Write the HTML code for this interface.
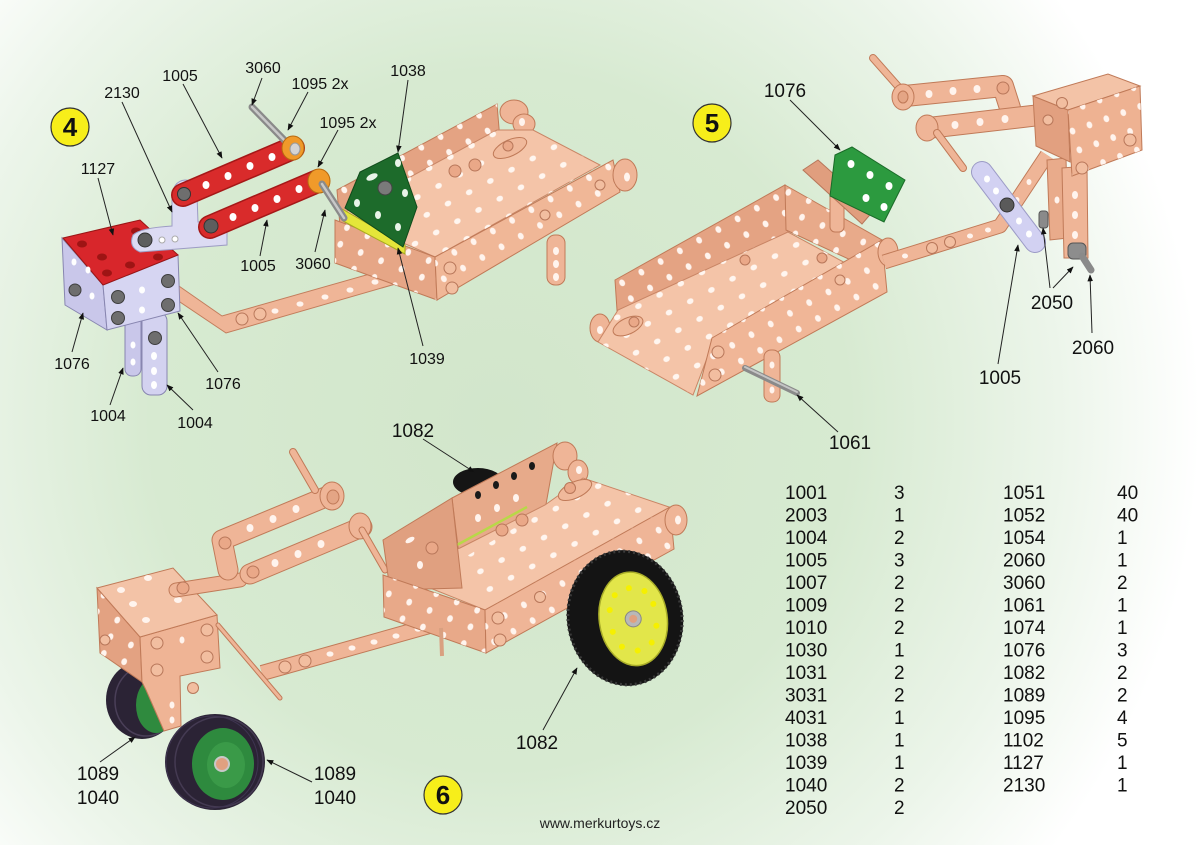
<!DOCTYPE html>
<html><head><meta charset="utf-8">
<style>
html,body{margin:0;padding:0}
body{width:1200px;height:845px;overflow:hidden;background:#fff}
svg{display:block}
</style></head><body>
<svg width="1200" height="845" viewBox="0 0 1200 845" xmlns="http://www.w3.org/2000/svg" font-family="'Liberation Sans', Arial, sans-serif">
<defs>
<radialGradient id="bg" gradientUnits="userSpaceOnUse" cx="500" cy="420" r="700">
<stop offset="0" stop-color="#d2e6cb"/>
<stop offset="0.5" stop-color="#d7ead1"/>
<stop offset="0.8" stop-color="#ecf5ea"/>
<stop offset="1" stop-color="#ffffff"/>
</radialGradient>
<pattern id="hA" width="22" height="18" patternUnits="userSpaceOnUse" patternTransform="rotate(-29)"><ellipse cx="11" cy="9" rx="2.8" ry="3.5" fill="#fff4ee"/></pattern>
<pattern id="hB" width="22" height="18" patternUnits="userSpaceOnUse" patternTransform="rotate(22)"><ellipse cx="11" cy="9" rx="2.8" ry="3.5" fill="#fff4ee"/></pattern>
<pattern id="hF" width="24" height="20" patternUnits="userSpaceOnUse" patternTransform="rotate(-28)"><ellipse cx="12" cy="10" rx="3.4" ry="2.8" fill="#fff6f0"/></pattern>
<pattern id="hV" width="18" height="20" patternUnits="userSpaceOnUse" patternTransform="rotate(-20)"><ellipse cx="9" cy="10" rx="2.8" ry="3.5" fill="#fff4ee"/></pattern>
<marker id="ah" viewBox="0 0 10 10" refX="9" refY="5" markerWidth="7" markerHeight="7" orient="auto" markerUnits="userSpaceOnUse"><path d="M0,1 L10,5 L0,9 z" fill="#111"/></marker>
</defs>

<rect width="1200" height="845" fill="url(#bg)"/>

<!-- ================= ASSEMBLY 4 ================= -->
<polygon points="176,284 222,316 433,256 437,272 226,333 174,298" fill="#efb597" stroke="#c27d5c" stroke-width="1"/>
<g fill="#fff4ee"><ellipse cx="275" cy="311" rx="3.5" ry="2.6"/><ellipse cx="300" cy="304" rx="3.5" ry="2.6"/><ellipse cx="325" cy="297" rx="3.5" ry="2.6"/><ellipse cx="350" cy="290" rx="3.5" ry="2.6"/><ellipse cx="375" cy="282" rx="3.5" ry="2.6"/><ellipse cx="400" cy="275" rx="3.5" ry="2.6"/></g>
<g fill="#f2bea0" stroke="#b8775a"><circle cx="242" cy="319" r="6"/><circle cx="260" cy="314" r="6"/></g>

<polygon points="337,190 497,104 500,140 340,226" fill="#e4a383" stroke="#c07a58"/>
<polygon points="337,190 497,104 500,140 340,226" fill="url(#hA)"/>
<ellipse cx="514" cy="112" rx="14" ry="12" fill="#efb597" stroke="#c07a58"/>
<ellipse cx="524" cy="124" rx="11" ry="10" fill="#efb597" stroke="#c07a58"/>
<ellipse cx="522" cy="122" rx="3" ry="4" fill="#fff4ee"/>
<polygon points="340,215 497,130 533,130 600,165 435,257" fill="#f4c4a8" stroke="#c98565"/>
<polygon points="340,215 497,130 533,130 600,165 435,257" fill="url(#hF)"/>
<ellipse cx="510" cy="148" rx="18" ry="8" fill="#f0b99b" stroke="#c07a58" transform="rotate(-25 510 148)"/>
<circle cx="508" cy="146" r="5" fill="#eaa888" stroke="#b8775a"/>
<circle cx="455" cy="171" r="6" fill="#eaa888" stroke="#b8775a"/>
<circle cx="475" cy="165" r="6" fill="#eaa888" stroke="#b8775a"/>
<rect x="547" y="235" width="18" height="50" rx="8" fill="#efb597" stroke="#c07a58"/>
<g fill="#fff4ee"><ellipse cx="556" cy="251" rx="3" ry="4"/><ellipse cx="556" cy="264" rx="3" ry="4"/><ellipse cx="556" cy="277" rx="3" ry="4"/></g>
<polygon points="335,220 435,257 437,300 335,263" fill="#e6a686" stroke="#c07a58"/>
<polygon points="335,220 435,257 437,300 335,263" fill="url(#hB)"/>
<polygon points="435,257 613,160 620,192 437,300" fill="#f0b797" stroke="#c07a58"/>
<polygon points="435,257 613,160 620,192 437,300" fill="url(#hA)"/>
<g fill="#f2bea0" stroke="#b8775a"><circle cx="450" cy="268" r="6"/><circle cx="452" cy="288" r="6"/><circle cx="545" cy="215" r="5"/><circle cx="600" cy="185" r="5"/></g>
<ellipse cx="625" cy="175" rx="12" ry="16" fill="#efb597" stroke="#c07a58"/>
<ellipse cx="627" cy="177" rx="3" ry="4.5" fill="#fff4ee"/>
<polygon points="342,209 405,245 405,254 343,221" fill="#e4e63a" stroke="#a8aa20"/>
<polygon points="345,208 360,172 398,153 417,207 403,247" fill="#1d6b2b" stroke="#0f4a1a"/>
<g fill="#e8f4e8"><ellipse cx="372" cy="177" rx="6" ry="3" transform="rotate(-25 372 177)"/><ellipse cx="398" cy="163" rx="3" ry="4"/><ellipse cx="357" cy="203" rx="3" ry="4"/><ellipse cx="405" cy="193" rx="3" ry="4"/><ellipse cx="378" cy="215" rx="3" ry="4"/><ellipse cx="398" cy="227" rx="3" ry="4"/></g>
<circle cx="385" cy="188" r="7" fill="#7a7a7a" stroke="#444"/>

<rect x="125" y="308" width="16" height="68" rx="7" fill="#c9c7ea" stroke="#8886b0"/>
<rect x="142" y="312" width="25" height="83" rx="9" fill="#d3d2f0" stroke="#8886b0"/>
<g fill="#ffffff"><ellipse cx="133" cy="345" rx="2.5" ry="3.5"/><ellipse cx="133" cy="362" rx="2.5" ry="3.5"/><ellipse cx="154" cy="356" rx="3" ry="4"/><ellipse cx="154" cy="371" rx="3" ry="4"/><ellipse cx="154" cy="385" rx="3" ry="4"/></g>
<circle cx="155" cy="338" r="6.5" fill="#6e6e6e" stroke="#3e3e3e"/>
<polygon points="62,238 103,285 107,330 65,305" fill="#c9c7ea" stroke="#8886b0"/>
<polygon points="103,285 178,255 180,311 107,330" fill="#d6d5f2" stroke="#8886b0"/>
<polygon points="63,238 140,220 178,255 103,285" fill="#d8262b" stroke="#9a1515"/>
<g fill="#9e1414"><ellipse cx="82" cy="244" rx="5" ry="3.5"/><ellipse cx="102" cy="257" rx="5" ry="3.5"/><ellipse cx="136" cy="231" rx="5" ry="3.5"/><ellipse cx="158" cy="257" rx="5" ry="3.5"/><ellipse cx="107" cy="273" rx="5" ry="3.5"/><ellipse cx="130" cy="265" rx="5" ry="3.5"/></g>
<g fill="#ffffff"><ellipse cx="74" cy="262" rx="2.5" ry="3.5"/><ellipse cx="88" cy="270" rx="2.5" ry="3.5"/><ellipse cx="92" cy="296" rx="2.5" ry="3.5"/><ellipse cx="142" cy="290" rx="3" ry="3.5"/><ellipse cx="142" cy="310" rx="3" ry="3.5"/></g>
<g fill="#6e6e6e" stroke="#3e3e3e"><circle cx="118" cy="297" r="6.5"/><circle cx="168" cy="281" r="6.5"/><circle cx="168" cy="305" r="6.5"/><circle cx="118" cy="318" r="6.5"/><circle cx="75" cy="290" r="6"/></g>
<path d="M172,200 Q172,181 185,180 Q198,180 197,195 L198,222 L227,221 L227,245 L140,252 Q128,247 133,235 Q140,228 172,226 Z" fill="#dcdbf3" stroke="#9d9cc4"/>
<g fill="#ffffff" stroke="#aaa"><circle cx="162" cy="240" r="3"/><circle cx="175" cy="239" r="3"/></g>
<circle cx="145" cy="240" r="7" fill="#5e5e5e" stroke="#333"/>
<line x1="183" y1="195" x2="293" y2="148" stroke="#a51818" stroke-width="24" stroke-linecap="round"/>
<line x1="183" y1="195" x2="293" y2="148" stroke="#d92b2b" stroke-width="21" stroke-linecap="round"/>
<g fill="#ffffff"><ellipse cx="206" cy="185" rx="3.5" ry="4"/><ellipse cx="228" cy="176" rx="3.5" ry="4"/><ellipse cx="250" cy="166" rx="3.5" ry="4"/><ellipse cx="272" cy="157" rx="3.5" ry="4"/></g>
<circle cx="184" cy="194" r="6.5" fill="#6e6e6e" stroke="#333"/>
<line x1="252" y1="107" x2="290" y2="146" stroke="#8a8a8a" stroke-width="7" stroke-linecap="round"/>
<line x1="252" y1="107" x2="290" y2="146" stroke="#c8c8c8" stroke-width="2.5" stroke-linecap="round"/>
<ellipse cx="293" cy="148" rx="11" ry="12" fill="#f09a2a" stroke="#b86a10"/>
<ellipse cx="295" cy="149" rx="5" ry="6" fill="#d4d4d4" stroke="#999"/>
<line x1="210" y1="227" x2="318" y2="181" stroke="#a51818" stroke-width="24" stroke-linecap="round"/>
<line x1="210" y1="227" x2="318" y2="181" stroke="#d92b2b" stroke-width="21" stroke-linecap="round"/>
<g fill="#ffffff"><ellipse cx="233" cy="217" rx="3.5" ry="4"/><ellipse cx="255" cy="208" rx="3.5" ry="4"/><ellipse cx="277" cy="199" rx="3.5" ry="4"/><ellipse cx="299" cy="189" rx="3.5" ry="4"/></g>
<circle cx="211" cy="226" r="7" fill="#5e5e5e" stroke="#333"/>
<ellipse cx="319" cy="181" rx="11" ry="12" fill="#f09a2a" stroke="#b86a10"/>
<line x1="322" y1="184" x2="344" y2="218" stroke="#8a8a8a" stroke-width="7" stroke-linecap="round"/>
<line x1="322" y1="184" x2="344" y2="218" stroke="#c8c8c8" stroke-width="2.5" stroke-linecap="round"/>

<!-- ================= ASSEMBLY 5 ================= -->
<polygon points="615,280 785,185 788,232 618,325" fill="#e4a383" stroke="#c07a58"/>
<polygon points="615,280 785,185 788,232 618,325" fill="url(#hA)"/>
<ellipse cx="600" cy="328" rx="10" ry="14" fill="#efb597" stroke="#c07a58"/>
<ellipse cx="600" cy="330" rx="3" ry="4" fill="#fff4ee"/>
<polygon points="598,342 618,310 788,232 862,272 712,345 693,395" fill="#f4c4a8" stroke="#c98565"/>
<polygon points="598,342 618,310 788,232 862,272 712,345 693,395" fill="url(#hF)"/>
<polygon points="785,185 882,240 868,268 786,230" fill="#e8aa8a" stroke="#c07a58"/>
<polygon points="785,185 882,240 868,268 786,230" fill="url(#hB)"/>
<ellipse cx="628" cy="326" rx="16" ry="8" fill="#f0b99b" stroke="#c07a58" transform="rotate(-25 628 326)"/>
<circle cx="634" cy="322" r="5" fill="#eaa888" stroke="#b8775a"/>
<circle cx="745" cy="260" r="5" fill="#eaa888" stroke="#b8775a"/>
<circle cx="822" cy="258" r="5" fill="#eaa888" stroke="#b8775a"/>
<polygon points="712,338 882,240 887,292 697,396" fill="#f0b697" stroke="#c07a58"/>
<polygon points="712,338 882,240 887,292 697,396" fill="url(#hA)"/>
<g fill="#f2bea0" stroke="#b8775a"><circle cx="718" cy="352" r="6"/><circle cx="715" cy="375" r="6"/><circle cx="840" cy="280" r="5"/></g>
<ellipse cx="888" cy="252" rx="10" ry="14" fill="#efb597" stroke="#c07a58"/>
<rect x="764" y="350" width="16" height="52" rx="7" fill="#efb597" stroke="#c07a58"/>
<g fill="#fff4ee"><ellipse cx="772" cy="365" rx="2.5" ry="3.5"/><ellipse cx="772" cy="390" rx="2.5" ry="3.5"/></g>
<line x1="745" y1="368" x2="797" y2="393" stroke="#8a8a8a" stroke-width="6" stroke-linecap="round"/>
<line x1="745" y1="367" x2="797" y2="392" stroke="#c4c4c4" stroke-width="2" stroke-linecap="round"/>
<rect x="830" y="190" width="14" height="42" rx="5" fill="#efb597" stroke="#c07a58"/>
<polygon points="803,170 818,160 874,210 862,224" fill="#e09e7e" stroke="#b8775a"/>
<polygon points="835,155 852,147 905,180 884,222 830,196" fill="#2c9a3f" stroke="#1a6a28"/>
<g fill="#ffffff"><ellipse cx="851" cy="164" rx="3.5" ry="4"/><ellipse cx="870" cy="175" rx="3.5" ry="4"/><ellipse cx="889" cy="186" rx="3.5" ry="4"/><ellipse cx="866" cy="198" rx="3.5" ry="4"/><ellipse cx="884" cy="207" rx="3.5" ry="4"/></g>
<polyline points="884,262 1000,226 1047,155" fill="none" stroke="#c07a58" stroke-width="15" stroke-linejoin="round"/>
<polyline points="884,262 1000,226 1047,155" fill="none" stroke="#efb597" stroke-width="13" stroke-linejoin="round"/>
<g fill="#fff4ee"><ellipse cx="905" cy="256" rx="3" ry="2.5"/><ellipse cx="970" cy="236" rx="3" ry="2.5"/><ellipse cx="988" cy="230" rx="3" ry="2.5"/><ellipse cx="1017" cy="200" rx="2.5" ry="3"/><ellipse cx="1029" cy="182" rx="2.5" ry="3"/></g>
<g fill="#f2bea0" stroke="#b8775a"><circle cx="932" cy="248" r="5.5"/><circle cx="950" cy="242" r="5.5"/></g>
<line x1="873" y1="58" x2="903" y2="92" stroke="#c07a58" stroke-width="8" stroke-linecap="round"/>
<line x1="873" y1="58" x2="903" y2="92" stroke="#efb597" stroke-width="6" stroke-linecap="round"/>
<polyline points="905,96 1003,86 1010,108" fill="none" stroke="#c07a58" stroke-width="22" stroke-linecap="round" stroke-linejoin="round"/>
<polyline points="905,96 1003,86 1010,108" fill="none" stroke="#efb597" stroke-width="20" stroke-linecap="round" stroke-linejoin="round"/>
<g fill="#fff4ee"><ellipse cx="929" cy="94" rx="3.5" ry="4"/><ellipse cx="953" cy="91" rx="3.5" ry="4"/><ellipse cx="977" cy="89" rx="3.5" ry="4"/></g>
<circle cx="1003" cy="88" r="6" fill="#eaa888" stroke="#b8775a"/>
<ellipse cx="903" cy="97" rx="11" ry="13" fill="#efb597" stroke="#c07a58"/>
<ellipse cx="903" cy="97" rx="5" ry="6" fill="#e4a585" stroke="#c07a58"/>
<line x1="928" y1="128" x2="1040" y2="115" stroke="#c07a58" stroke-width="22" stroke-linecap="round"/>
<line x1="928" y1="128" x2="1040" y2="115" stroke="#efb597" stroke-width="20" stroke-linecap="round"/>
<g fill="#fff4ee"><ellipse cx="955" cy="125" rx="3.5" ry="4"/><ellipse cx="980" cy="122" rx="3.5" ry="4"/><ellipse cx="1005" cy="119" rx="3.5" ry="4"/></g>
<ellipse cx="927" cy="128" rx="11" ry="13" fill="#efb597" stroke="#c07a58"/>
<line x1="937" y1="133" x2="963" y2="168" stroke="#c07a58" stroke-width="8" stroke-linecap="round"/>
<line x1="937" y1="133" x2="963" y2="168" stroke="#efb597" stroke-width="6" stroke-linecap="round"/>
<polygon points="1047,160 1066,158 1068,238 1050,240" fill="#e9ab8b" stroke="#c07a58"/>
<polygon points="1062,168 1087,166 1088,258 1064,258" fill="#efb597" stroke="#c07a58"/>
<g fill="#fff4ee"><ellipse cx="1075" cy="195" rx="3" ry="4"/><ellipse cx="1075" cy="215" rx="3" ry="4"/><ellipse cx="1075" cy="235" rx="3" ry="4"/><ellipse cx="1057" cy="200" rx="2.5" ry="3.5"/></g>
<polygon points="1033,96 1068,110 1070,162 1036,146" fill="#e2a080" stroke="#c07a58"/>
<polygon points="1033,96 1108,74 1140,86 1068,110" fill="#f3c3a7" stroke="#c07a58"/>
<polygon points="1068,110 1140,86 1142,150 1072,176" fill="#eeb292" stroke="#c07a58"/>
<polygon points="1068,110 1140,86 1142,150 1072,176" fill="url(#hV)"/>
<g fill="#f2bea0" stroke="#b8775a"><circle cx="1062" cy="103" r="5.5"/><circle cx="1082" cy="168" r="6"/><circle cx="1130" cy="140" r="6"/><circle cx="1048" cy="120" r="5"/></g>
<line x1="982" y1="172" x2="1035" y2="242" stroke="#9c9bc6" stroke-width="22" stroke-linecap="round"/>
<line x1="982" y1="172" x2="1035" y2="242" stroke="#d2d1f2" stroke-width="20" stroke-linecap="round"/>
<g fill="#ffffff"><ellipse cx="987" cy="179" rx="3" ry="3.5"/><ellipse cx="996" cy="191" rx="3" ry="3.5"/><ellipse cx="1019" cy="221" rx="3" ry="3.5"/><ellipse cx="1029" cy="234" rx="3" ry="3.5"/></g>
<circle cx="1007" cy="205" r="7" fill="#5a5a5a" stroke="#333"/>
<rect x="1039" y="211" width="9" height="17" rx="3" fill="#8a8a8a" stroke="#555"/>
<rect x="1068" y="243" width="18" height="16" rx="5" fill="#8d8d8d" stroke="#555"/>
<line x1="1082" y1="256" x2="1091" y2="270" stroke="#8a8a8a" stroke-width="7" stroke-linecap="round"/>

<!-- ================= ASSEMBLY 6 ================= -->
<ellipse cx="142" cy="700" rx="36" ry="39" fill="#2b2335"/>
<ellipse cx="146" cy="701" rx="31" ry="35" fill="none" stroke="#4a3f58" stroke-width="1.5"/>
<ellipse cx="156" cy="705" rx="20" ry="28" fill="#2f8a3e"/>
<ellipse cx="165" cy="700" rx="9" ry="14" fill="#c8c8c8"/>
<polygon points="97,588 140,637 142,682 100,653" fill="#e3a282" stroke="#c07a58"/>
<polygon points="97,588 140,637 142,682 100,653" fill="url(#hB)"/>
<polygon points="140,637 217,615 220,668 180,676 181,726 164,731 146,690 142,682" fill="#efb495" stroke="#c07a58"/>
<polygon points="97,588 173,568 217,615 140,637" fill="#f3c3a7" stroke="#c07a58"/>
<g fill="#fff4ee"><ellipse cx="121" cy="590" rx="4" ry="3"/><ellipse cx="133" cy="604" rx="4" ry="3"/><ellipse cx="148" cy="578" rx="4" ry="3"/><ellipse cx="146" cy="620" rx="4" ry="3"/><ellipse cx="178" cy="600" rx="4" ry="3"/></g>
<g fill="#f2bea0" stroke="#b8775a"><circle cx="157" cy="643" r="6"/><circle cx="207" cy="630" r="6"/><circle cx="157" cy="670" r="6"/><circle cx="207" cy="657" r="6"/><circle cx="193" cy="688" r="5.5"/><circle cx="105" cy="640" r="5"/></g>
<g fill="#fff4ee"><ellipse cx="182" cy="640" rx="2.5" ry="3.5"/><ellipse cx="172" cy="705" rx="2.5" ry="3.5"/><ellipse cx="172" cy="720" rx="2.5" ry="3.5"/></g>
<ellipse cx="215" cy="762" rx="50" ry="48" fill="#2b2335"/>
<ellipse cx="219" cy="762" rx="44" ry="45" fill="none" stroke="#443a52" stroke-width="1.5"/>
<ellipse cx="212" cy="762" rx="46" ry="46" fill="none" stroke="#3e3450" stroke-width="1"/>
<ellipse cx="223" cy="764" rx="31" ry="36" fill="#2e8a3e"/>
<ellipse cx="226" cy="765" rx="19" ry="23" fill="#3a9a48"/>
<circle cx="222" cy="764" r="7" fill="#e0a080" stroke="#c8c8c8" stroke-width="2"/>
<line x1="176" y1="590" x2="240" y2="580" stroke="#c07a58" stroke-width="15" stroke-linecap="round"/>
<line x1="176" y1="590" x2="240" y2="580" stroke="#efb597" stroke-width="13" stroke-linecap="round"/>
<circle cx="183" cy="588" r="6" fill="#eaa888" stroke="#b8775a"/>
<polyline points="228,570 222,540 333,494" fill="none" stroke="#c07a58" stroke-width="21" stroke-linecap="round" stroke-linejoin="round"/>
<polyline points="228,570 222,540 333,494" fill="none" stroke="#efb597" stroke-width="19" stroke-linecap="round" stroke-linejoin="round"/>
<g fill="#fff4ee"><ellipse cx="250" cy="528" rx="3.5" ry="4"/><ellipse cx="273" cy="519" rx="3.5" ry="4"/><ellipse cx="296" cy="509" rx="3.5" ry="4"/></g>
<circle cx="225" cy="543" r="6" fill="#eaa888" stroke="#b8775a"/>
<line x1="293" y1="452" x2="315" y2="490" stroke="#c07a58" stroke-width="8" stroke-linecap="round"/>
<line x1="293" y1="452" x2="315" y2="490" stroke="#efb597" stroke-width="6" stroke-linecap="round"/>
<ellipse cx="332" cy="496" rx="12" ry="14" fill="#efb597" stroke="#c07a58"/>
<ellipse cx="333" cy="497" rx="6" ry="7" fill="#e4a585" stroke="#c07a58"/>
<line x1="250" y1="574" x2="362" y2="527" stroke="#c07a58" stroke-width="21" stroke-linecap="round"/>
<line x1="250" y1="574" x2="362" y2="527" stroke="#efb597" stroke-width="19" stroke-linecap="round"/>
<g fill="#fff4ee"><ellipse cx="275" cy="563" rx="3.5" ry="4"/><ellipse cx="298" cy="554" rx="3.5" ry="4"/><ellipse cx="321" cy="544" rx="3.5" ry="4"/></g>
<circle cx="253" cy="572" r="6" fill="#eaa888" stroke="#b8775a"/>
<ellipse cx="360" cy="526" rx="11" ry="13" fill="#efb597" stroke="#c07a58"/>
<line x1="362" y1="530" x2="385" y2="570" stroke="#c07a58" stroke-width="7" stroke-linecap="round"/>
<line x1="362" y1="530" x2="385" y2="570" stroke="#efb597" stroke-width="5" stroke-linecap="round"/>
<line x1="262" y1="673" x2="440" y2="623" stroke="#c07a58" stroke-width="16"/>
<line x1="262" y1="673" x2="440" y2="623" stroke="#efb597" stroke-width="14"/>
<g fill="#fff4ee"><ellipse cx="330" cy="654" rx="3.5" ry="2.6"/><ellipse cx="352" cy="648" rx="3.5" ry="2.6"/><ellipse cx="374" cy="642" rx="3.5" ry="2.6"/><ellipse cx="396" cy="636" rx="3.5" ry="2.6"/><ellipse cx="418" cy="629" rx="3.5" ry="2.6"/></g>
<g fill="#f2bea0" stroke="#b8775a"><circle cx="285" cy="667" r="6"/><circle cx="305" cy="661" r="6"/></g>
<line x1="218" y1="625" x2="280" y2="698" stroke="#c07a58" stroke-width="5" stroke-linecap="round"/>
<line x1="218" y1="625" x2="280" y2="698" stroke="#efb597" stroke-width="3" stroke-linecap="round"/>
<ellipse cx="478" cy="482" rx="25" ry="14" fill="#151515"/>
<polygon points="452,498 557,443 545,510 460,563" fill="#e7aa8a" stroke="#c07a58"/>
<g fill="#1a1a1a"><ellipse cx="478" cy="495" rx="3" ry="4"/><ellipse cx="496" cy="485" rx="3" ry="4"/><ellipse cx="514" cy="476" rx="3" ry="4"/><ellipse cx="532" cy="466" rx="3" ry="4"/></g>
<g fill="#fff4ee"><ellipse cx="478" cy="518" rx="3" ry="4"/><ellipse cx="497" cy="508" rx="3" ry="4"/><ellipse cx="516" cy="498" rx="3" ry="4"/></g>
<ellipse cx="565" cy="456" rx="12" ry="14" fill="#efb597" stroke="#c07a58"/>
<ellipse cx="578" cy="472" rx="10" ry="12" fill="#efb597" stroke="#c07a58"/>
<ellipse cx="579" cy="470" rx="3" ry="4" fill="#fff4ee"/>
<polygon points="390,572 460,548 545,505 583,478 672,508 485,610" fill="#f4c4a8" stroke="#c98565"/>
<polygon points="460,560 545,510 583,478 672,508 485,610" fill="url(#hF)"/>
<ellipse cx="575" cy="490" rx="18" ry="8" fill="#f0b99b" stroke="#c07a58" transform="rotate(-25 575 490)"/>
<circle cx="570" cy="488" r="5.5" fill="#eaa888" stroke="#b8775a"/>
<g fill="#eaa888" stroke="#b8775a"><circle cx="502" cy="530" r="6"/><circle cx="522" cy="520" r="6"/></g>
<line x1="455" y1="546" x2="527" y2="507" stroke="#b8d848" stroke-width="2.5"/>
<polygon points="383,540 452,498 462,588 390,590" fill="#e0a080" stroke="#c07a58"/>
<g fill="#fff4ee"><ellipse cx="410" cy="540" rx="5" ry="2.5" transform="rotate(-30 410 540)"/><ellipse cx="420" cy="565" rx="3" ry="4"/></g>
<circle cx="432" cy="548" r="6" fill="#eaa888" stroke="#b8775a"/>
<polygon points="383,575 485,610 486,653 384,617" fill="#e8a989" stroke="#c07a58"/>
<polygon points="383,575 485,610 486,653 384,617" fill="url(#hB)"/>
<polygon points="485,610 670,507 674,549 486,653" fill="#efb597" stroke="#c07a58"/>
<polygon points="485,610 670,507 674,549 486,653" fill="url(#hA)"/>
<g fill="#f2bea0" stroke="#b8775a"><circle cx="498" cy="618" r="6"/><circle cx="500" cy="640" r="6"/><circle cx="540" cy="597" r="5.5"/></g>
<ellipse cx="676" cy="520" rx="11" ry="15" fill="#efb597" stroke="#c07a58"/>
<ellipse cx="678" cy="520" rx="3" ry="4.5" fill="#fff4ee"/>
<line x1="441" y1="628" x2="442" y2="656" stroke="#d9a080" stroke-width="4"/>
<g transform="rotate(-8 625 618)">
<ellipse cx="625" cy="618" rx="58" ry="68" fill="#141414"/>
<ellipse cx="625" cy="618" rx="57" ry="67" fill="none" stroke="#3a3a3a" stroke-width="3" stroke-dasharray="2 3"/>
<ellipse cx="633" cy="620" rx="34" ry="47" fill="#e2e64a" stroke="#a8ac28" stroke-width="1.5"/>
<g fill="#f6f000"><circle cx="633" cy="589" r="3"/><circle cx="648" cy="594" r="3"/><circle cx="655" cy="608" r="3"/><circle cx="655" cy="630" r="3"/><circle cx="648" cy="646" r="3"/><circle cx="633" cy="652" r="3"/><circle cx="618" cy="646" r="3"/><circle cx="611" cy="630" r="3"/><circle cx="611" cy="608" r="3"/><circle cx="618" cy="594" r="3"/></g>
<circle cx="633" cy="620" r="8" fill="#b8b8b8" stroke="#888"/>
<circle cx="633" cy="620" r="4" fill="#e0a080"/>
</g>

<!-- ================= LABELS & ARROWS ================= -->
<g stroke="#222" stroke-width="1" marker-end="url(#ah)" fill="none">
<line x1="262" y1="78" x2="252" y2="105"/>
<line x1="183" y1="84" x2="222" y2="158"/>
<line x1="308" y1="92" x2="288" y2="130"/>
<line x1="338" y1="130" x2="318" y2="167"/>
<line x1="122" y1="102" x2="172" y2="212"/>
<line x1="408" y1="80" x2="398" y2="152"/>
<line x1="98" y1="178" x2="113" y2="235"/>
<line x1="260" y1="256" x2="267" y2="220"/>
<line x1="315" y1="252" x2="325" y2="210"/>
<line x1="423" y1="346" x2="398" y2="248"/>
<line x1="72" y1="352" x2="83" y2="313"/>
<line x1="218" y1="372" x2="178" y2="313"/>
<line x1="110" y1="405" x2="123" y2="368"/>
<line x1="193" y1="410" x2="167" y2="385"/>
<line x1="790" y1="100" x2="840" y2="150"/>
<line x1="838" y1="432" x2="797" y2="395"/>
<line x1="998" y1="364" x2="1018" y2="245"/>
<line x1="1050" y1="288" x2="1043" y2="228"/>
<line x1="1053" y1="288" x2="1073" y2="267"/>
<line x1="1092" y1="333" x2="1090" y2="275"/>
<line x1="423" y1="439" x2="474" y2="472"/>
<line x1="543" y1="730" x2="577" y2="668"/>
<line x1="100" y1="762" x2="135" y2="737"/>
<line x1="312" y1="782" x2="267" y2="760"/>
</g>

<g font-size="16" fill="#111" text-anchor="middle">
<text x="263" y="73">3060</text>
<text x="180" y="81">1005</text>
<text x="320" y="89">1095 2x</text>
<text x="122" y="98">2130</text>
<text x="408" y="76">1038</text>
<text x="348" y="128">1095 2x</text>
<text x="98" y="174">1127</text>
<text x="258" y="271">1005</text>
<text x="313" y="269">3060</text>
<text x="427" y="364">1039</text>
<text x="72" y="369">1076</text>
<text x="223" y="389">1076</text>
<text x="108" y="421">1004</text>
<text x="195" y="428">1004</text>
</g>
<g font-size="19" fill="#111" text-anchor="middle">
<text x="785" y="97">1076</text>
<text x="850" y="449">1061</text>
<text x="1000" y="384">1005</text>
<text x="1052" y="309">2050</text>
<text x="1093" y="354">2060</text>
<text x="413" y="437">1082</text>
<text x="537" y="749">1082</text>
<text x="98" y="780">1089</text>
<text x="98" y="804">1040</text>
<text x="335" y="780">1089</text>
<text x="335" y="804">1040</text>
</g>

<g stroke="#333" stroke-width="1.2" fill="#f7ee1a">
<circle cx="70" cy="127" r="19"/>
<circle cx="712" cy="123" r="19"/>
<circle cx="443" cy="795" r="19"/>
</g>
<g font-size="26" font-weight="bold" fill="#111" text-anchor="middle">
<text x="70" y="136">4</text>
<text x="712" y="132">5</text>
<text x="443" y="804">6</text>
</g>

<g font-size="19" fill="#111">
<text x="785" y="499">1001</text><text x="894" y="499">3</text>
<text x="785" y="521.5">2003</text><text x="894" y="521.5">1</text>
<text x="785" y="544">1004</text><text x="894" y="544">2</text>
<text x="785" y="566.5">1005</text><text x="894" y="566.5">3</text>
<text x="785" y="589">1007</text><text x="894" y="589">2</text>
<text x="785" y="611.5">1009</text><text x="894" y="611.5">2</text>
<text x="785" y="634">1010</text><text x="894" y="634">2</text>
<text x="785" y="656.5">1030</text><text x="894" y="656.5">1</text>
<text x="785" y="679">1031</text><text x="894" y="679">2</text>
<text x="785" y="701.5">3031</text><text x="894" y="701.5">2</text>
<text x="785" y="724">4031</text><text x="894" y="724">1</text>
<text x="785" y="746.5">1038</text><text x="894" y="746.5">1</text>
<text x="785" y="769">1039</text><text x="894" y="769">1</text>
<text x="785" y="791.5">1040</text><text x="894" y="791.5">2</text>
<text x="785" y="814">2050</text><text x="894" y="814">2</text>

<text x="1003" y="499">1051</text><text x="1117" y="499">40</text>
<text x="1003" y="521.5">1052</text><text x="1117" y="521.5">40</text>
<text x="1003" y="544">1054</text><text x="1117" y="544">1</text>
<text x="1003" y="566.5">2060</text><text x="1117" y="566.5">1</text>
<text x="1003" y="589">3060</text><text x="1117" y="589">2</text>
<text x="1003" y="611.5">1061</text><text x="1117" y="611.5">1</text>
<text x="1003" y="634">1074</text><text x="1117" y="634">1</text>
<text x="1003" y="656.5">1076</text><text x="1117" y="656.5">3</text>
<text x="1003" y="679">1082</text><text x="1117" y="679">2</text>
<text x="1003" y="701.5">1089</text><text x="1117" y="701.5">2</text>
<text x="1003" y="724">1095</text><text x="1117" y="724">4</text>
<text x="1003" y="746.5">1102</text><text x="1117" y="746.5">5</text>
<text x="1003" y="769">1127</text><text x="1117" y="769">1</text>
<text x="1003" y="791.5">2130</text><text x="1117" y="791.5">1</text>
</g>

<text x="600" y="828" font-size="14" fill="#222" text-anchor="middle">www.merkurtoys.cz</text>
</svg>
</body></html>
